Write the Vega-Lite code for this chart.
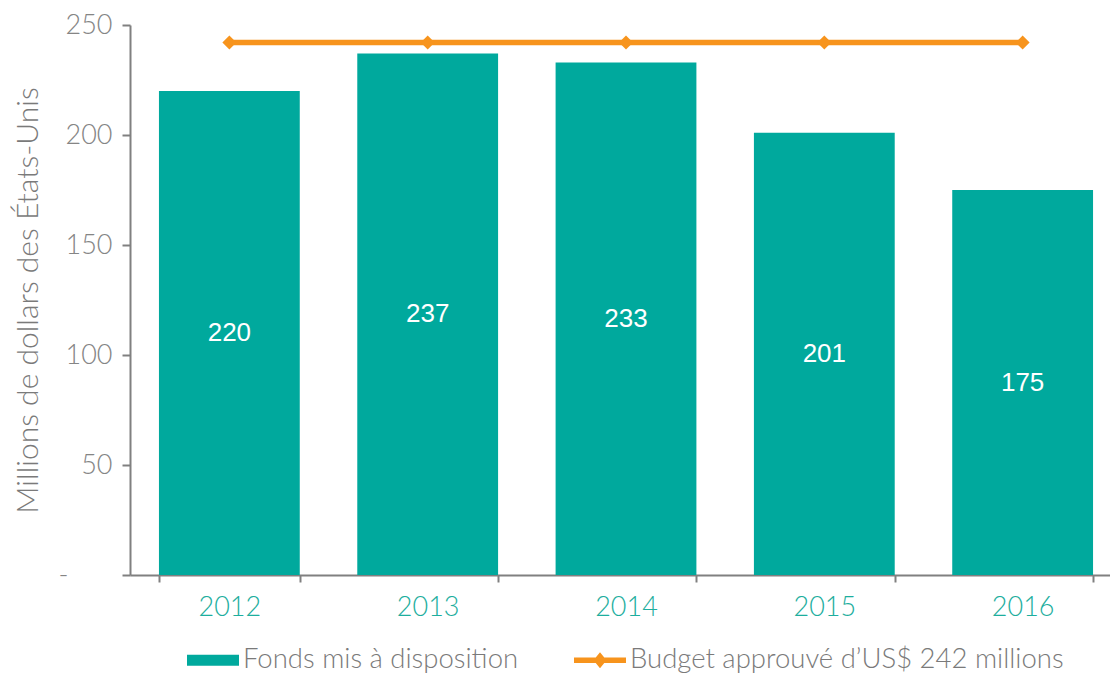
{
  "$schema": "https://vega.github.io/schema/vega-lite/v6.json",
  "width": 980,
  "height": 550,
  "autosize": {"type": "none"},
  "padding": {"left": 130, "top": 25, "right": 0, "bottom": 101},
  "background": "white",
  "config": {"view": {"stroke": null}, "font": "Lato"},
  "data": {
    "values": [
      {"year": "2012", "funds": 220, "budget": 242},
      {"year": "2013", "funds": 237, "budget": 242},
      {"year": "2014", "funds": 233, "budget": 242},
      {"year": "2015", "funds": 201, "budget": 242},
      {"year": "2016", "funds": 175, "budget": 242}
    ]
  },
  "encoding": {
    "x": {
      "field": "year",
      "type": "nominal",
      "scale": {"range": [0, 992], "paddingInner": 0.29, "paddingOuter": 0.146},
      "axis": {
        "title": null,
        "labelAngle": 0,
        "labelColor": "#1DAE9E",
        "labelFontSize": 27,
        "labelFontWeight": 300,
        "labelPadding": 12,
        "domainColor": "#808080",
        "domainWidth": 2,
        "tickColor": "#808080",
        "tickBand": "extent",
        "tickSize": 7,
        "tickWidth": 2
      }
    }
  },
  "layer": [
    {
      "mark": {"type": "bar", "color": "#00A99D"},
      "encoding": {
        "y": {
          "field": "funds",
          "type": "quantitative",
          "scale": {"domain": [0, 250], "nice": false},
          "axis": {
            "title": "Millions de dollars des États-Unis",
            "titleFontSize": 30,
            "titleFontWeight": 300,
            "titleColor": "#7a7a7a",
            "titlePadding": 15,
            "values": [0, 50, 100, 150, 200, 250],
            "labelExpr": "datum.value == 0 ? '-' : datum.label",
            "labelFontSize": 27,
            "labelFontWeight": 300,
            "labelColor": "#858585",
            "labelPadding": {"condition": {"test": "datum.value == 0", "value": 54}, "value": 10},
            "grid": false,
            "domainColor": "#808080",
            "domainWidth": 2,
            "tickColor": "#808080",
            "tickSize": 8,
            "tickWidth": 2
          }
        },
        "color": {
          "datum": "Fonds mis à disposition",
          "type": "nominal",
          "scale": {
            "domain": ["Fonds mis à disposition", "Budget approuvé d’US$ 242 millions"],
            "range": ["#00A99D", "#F7941D"]
          },
          "legend": {
            "orient": "none",
            "legendX": 57,
            "legendY": 609,
            "direction": "horizontal",
            "title": null,
            "labelFontSize": 27.5,
            "labelFontWeight": 300,
            "labelColor": "#7a7a7a",
            "labelLimit": 800,
            "symbolSize": 2704,
            "columnPadding": 55,
            "labelOffset": 4,
            "encode": {
              "symbols": {
                "update": {
                  "shape": {"signal": "datum.value == 'Fonds mis à disposition' ? 'M-1,-0.21H1V0.21H-1Z' : 'M-1,-0.11H1V0.11H-1Z M-0.25,0L0,-0.31L0.25,0L0,0.31Z'"},
                  "fill": {"signal": "datum.value == 'Fonds mis à disposition' ? '#00A99D' : '#F7941D'"},
                  "strokeWidth": {"value": 0},
                  "opacity": {"value": 1}
                }
              }
            }
          }
        }
      }
    },
    {
      "mark": {"type": "line", "strokeWidth": 5.5, "point": {"shape": "diamond", "filled": true, "size": 196}},
      "encoding": {
        "y": {"field": "budget", "type": "quantitative", "scale": {"domain": [0, 250], "nice": false}, "axis": null},
        "color": {"datum": "Budget approuvé d’US$ 242 millions", "type": "nominal"}
      }
    },
    {
      "mark": {"type": "text", "color": "white", "fontSize": 26, "baseline": "middle", "font": "Liberation Sans"},
      "encoding": {
        "y": {"field": "funds", "type": "quantitative", "scale": {"domain": [0, 500], "nice": false}, "axis": null},
        "text": {"field": "funds", "type": "quantitative"}
      }
    }
  ],
  "resolve": {"scale": {"y": "independent"}}
}
